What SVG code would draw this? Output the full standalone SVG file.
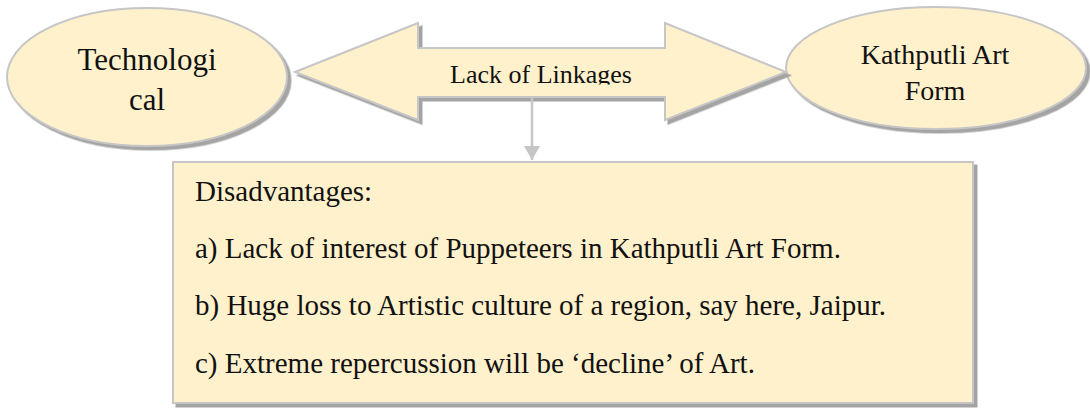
<svg xmlns="http://www.w3.org/2000/svg" width="1090" height="409" viewBox="0 0 1090 409">
  <defs>
    <filter id="shadow" x="-5%" y="-5%" width="115%" height="120%">
      <feDropShadow dx="3.5" dy="3.5" stdDeviation="0.3" flood-color="#a4a4a4" flood-opacity="1"/>
    </filter>
    <clipPath id="labelClip">
      <rect x="300" y="40" width="480" height="44.5"/>
    </clipPath>
    <marker id="arrowDown" viewBox="0 0 14 16" refX="14" refY="8" markerWidth="14" markerHeight="16" markerUnits="userSpaceOnUse" orient="auto">
      <path d="M0,0 L14,8 L0,16 Z" fill="#c6c6c6"/>
    </marker>
  </defs>
  <style>
    .shape { fill: #fff1cc; stroke: #c6c6c6; stroke-width: 2; filter: url(#shadow); }
    .txt { font-family: "Liberation Serif", "Times New Roman", serif; fill: #111; }
    .mid { text-anchor: middle; }
    .conn { stroke: #c6c6c6; stroke-width: 2.5; fill: none; }
  </style>

  <rect width="1090" height="409" fill="#ffffff"/>

  <!-- left oval -->
  <g id="technological">
    <ellipse class="shape" cx="147" cy="77" rx="140" ry="69"/>
    <text class="txt mid" font-size="31" x="147" y="70">Technologi</text>
    <text class="txt mid" font-size="31" x="147" y="110">cal</text>
  </g>

  <!-- right oval -->
  <g id="kathputli">
    <ellipse class="shape" cx="936" cy="68" rx="150" ry="61"/>
    <text class="txt mid" font-size="28" x="935" y="64">Kathputli Art</text>
    <text class="txt mid" font-size="28" x="935" y="100">Form</text>
  </g>

  <!-- double-headed block arrow -->
  <g id="linkages">
    <path class="shape" d="M295,72 L418,23 L418,48 L665,48 L665,23 L786,72 L665,120 L665,97 L418,97 L418,120 Z"/>
    <text class="txt mid" font-size="26" x="541" y="83" clip-path="url(#labelClip)">Lack of Linkages</text>
  </g>

  <!-- connectors -->
  <g id="connectors">
    <line class="conn" x1="532" y1="98" x2="532" y2="160" marker-end="url(#arrowDown)"/>
  </g>

  <!-- disadvantages box -->
  <g id="disadvantages">
    <rect class="shape" x="173" y="162" width="800" height="241"/>
    <text class="txt" font-size="29" x="195" y="201">Disadvantages:</text>
    <text class="txt" font-size="29" x="195" y="258">a) Lack of interest of Puppeteers in Kathputli Art Form.</text>
    <text class="txt" font-size="29" x="195" y="315">b) Huge loss to Artistic culture of a region, say here, Jaipur.</text>
    <text class="txt" font-size="29" x="195" y="373">c) Extreme repercussion will be ‘decline’ of Art.</text>
  </g>
</svg>
